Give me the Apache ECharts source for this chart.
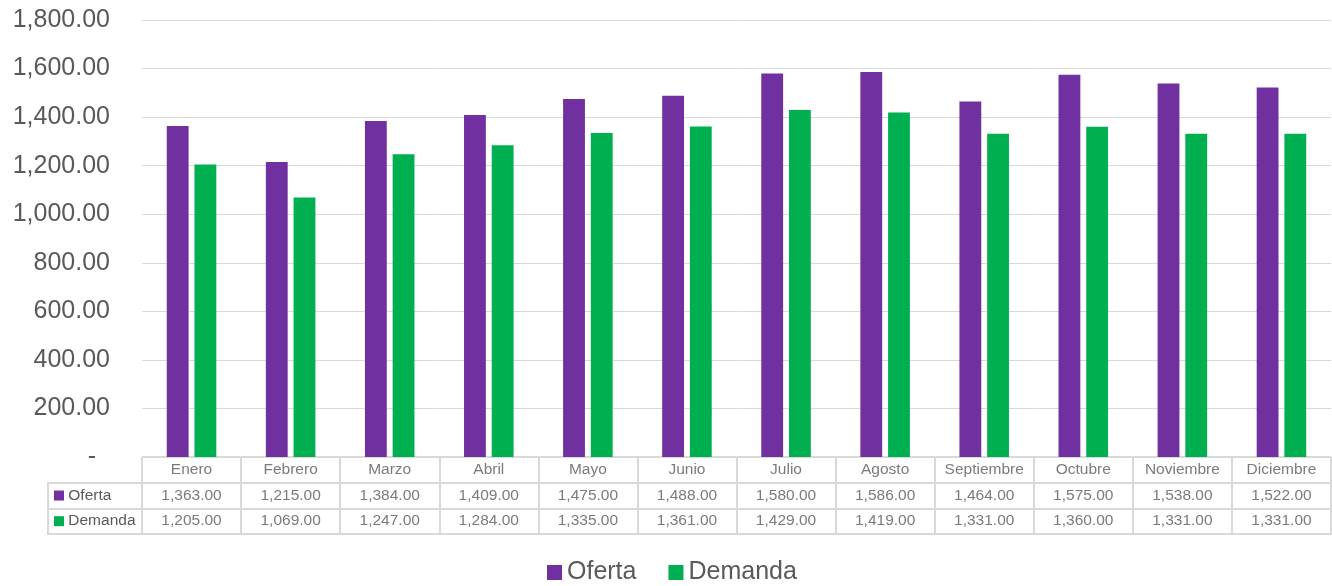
<!DOCTYPE html>
<html>
<head>
<meta charset="utf-8">
<script src="https://cdn.jsdelivr.net/npm/echarts@6/dist/echarts.min.js"></script>
<style>
  html, body { margin: 0; padding: 0; background: #fff; }
  #chart { width: 1332px; height: 586px; }
</style>
</head>
<body>
<div id="chart"></div>
<script>
var meses = ['Enero', 'Febrero', 'Marzo', 'Abril', 'Mayo', 'Junio', 'Julio', 'Agosto', 'Septiembre', 'Octubre', 'Noviembre', 'Diciembre'];
var oferta = [1363, 1215, 1384, 1409, 1475, 1488, 1580, 1586, 1464, 1575, 1538, 1522];
var demanda = [1205, 1069, 1247, 1284, 1335, 1361, 1429, 1419, 1331, 1360, 1331, 1331];
var filas = ['Mes', 'Oferta', 'Demanda'];

var purple = '#7030A0';
var green = '#00B050';
var ink = '#595959';
var rule = '#d9d9d9';
var font = 'Liberation Sans, Arial, sans-serif';

function fmt(v) {
  return v.toLocaleString('en-US', { minimumFractionDigits: 2, maximumFractionDigits: 2 });
}

// celdas de la tabla de datos
var celdas = [];
meses.forEach(function(m, i) {
  celdas.push({ value: [i, 0], t: m });
  celdas.push({ value: [i, 1], t: fmt(oferta[i]) });
  celdas.push({ value: [i, 2], t: fmt(demanda[i]) });
});

var chart = echarts.init(document.getElementById('chart'), null, { renderer: 'canvas' });

chart.setOption({
  animation: false,
  textStyle: { fontFamily: font },
  legend: {
    data: ['Oferta', 'Demanda'],
    top: 555,
    left: 542,
    itemWidth: 15,
    itemHeight: 15,
    itemGap: 32,
    icon: 'rect',
    textStyle: { color: ink, fontSize: 25, fontFamily: font }
  },
  grid: [
    { left: 142, right: 1, top: 20, bottom: 129 },
    { left: 142, right: 1, top: 457, height: 77 },
    { left: 48, width: 94, top: 482.7, height: 51.3 }
  ],
  xAxis: [
    {
      gridIndex: 0, type: 'category', data: meses,
      axisLine: { show: false }, axisTick: { show: false }, axisLabel: { show: false }
    },
    {
      gridIndex: 1, type: 'category', data: meses,
      axisLine: { show: true, lineStyle: { color: rule, width: 2 } },
      axisTick: { show: false }, axisLabel: { show: false },
      splitLine: { show: true, lineStyle: { color: rule, width: 2 } }
    },
    {
      gridIndex: 2, type: 'category', data: ['x'],
      axisLine: { show: true, lineStyle: { color: rule, width: 2 } },
      axisTick: { show: false }, axisLabel: { show: false },
      splitLine: { show: true, lineStyle: { color: rule, width: 2 } }
    }
  ],
  yAxis: [
    {
      gridIndex: 0, type: 'value', min: 0, max: 1800, interval: 200,
      axisLine: { show: false }, axisTick: { show: false },
      splitLine: { lineStyle: { color: rule, width: 1 } },
      axisLabel: {
        color: ink, fontSize: 25, fontFamily: font, margin: 32,
        formatter: function(v) { return v === 0 ? '-  ' : fmt(v); }
      }
    },
    {
      gridIndex: 1, type: 'category', data: filas, inverse: true,
      axisLine: { show: false }, axisTick: { show: false }, axisLabel: { show: false },
      splitLine: { show: true, lineStyle: { color: rule, width: 2 } }
    },
    {
      gridIndex: 2, type: 'category', data: ['Oferta', 'Demanda'], inverse: true,
      axisLine: { show: true, lineStyle: { color: rule, width: 2 } },
      axisTick: { show: false },
      splitLine: { show: true, lineStyle: { color: rule, width: 2 } },
      axisLabel: {
        inside: true, align: 'left', margin: 6,
        color: ink, fontSize: 15.5, fontFamily: font,
        formatter: function(v) { return (v === 'Oferta' ? '{a|}' : '{b|}') + ' ' + v; },
        rich: {
          a: { width: 10, height: 10, backgroundColor: purple },
          b: { width: 10, height: 10, backgroundColor: green }
        }
      }
    }
  ],
  series: [
    {
      name: 'Oferta', type: 'bar', data: oferta,
      xAxisIndex: 0, yAxisIndex: 0,
      itemStyle: { color: purple },
      barGap: '27%', barCategoryGap: '50%'
    },
    {
      name: 'Demanda', type: 'bar', data: demanda,
      xAxisIndex: 0, yAxisIndex: 0,
      itemStyle: { color: green }
    },
    {
      name: 'tabla', type: 'scatter', data: celdas,
      xAxisIndex: 1, yAxisIndex: 1,
      symbolSize: 1, itemStyle: { color: 'rgba(0,0,0,0)' }, silent: true,
      label: {
        show: true, position: 'inside',
        color: ink, fontSize: 15.5, fontFamily: font,
        formatter: function(p) { return p.data.t; }
      }
    }
  ]
});

window.addEventListener('resize', function() { chart.resize(); });
</script>
</body>
</html>
